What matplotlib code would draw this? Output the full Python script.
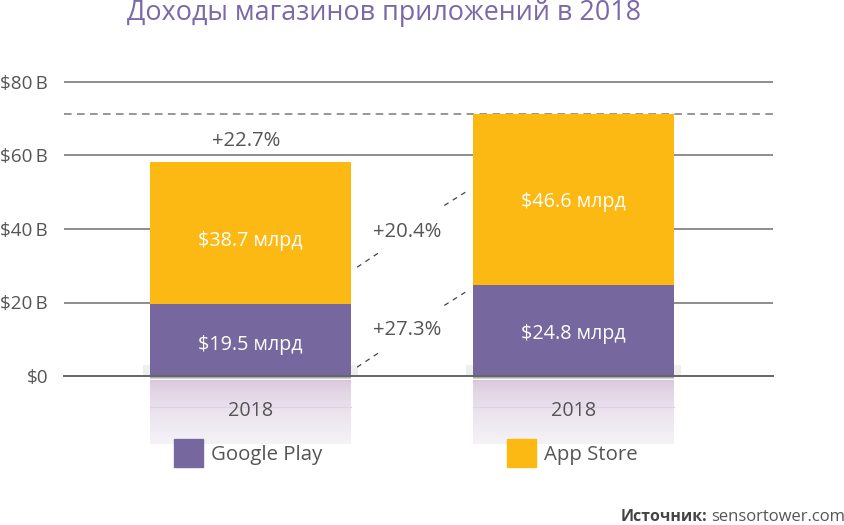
#!/usr/bin/env python

# Numbers.
import numpy as np

# Plotting.
import matplotlib
matplotlib.use('Agg')
import matplotlib.pyplot as plt
from matplotlib.patches import Patch

plt.rcParams['font.family'] = ['Open Sans', 'DejaVu Sans']

# Chart data.
years = ['2018', '2018']
google_play = [19.5, 24.8]
app_store = [38.7, 46.6]
google_labels = ['$19.5 млрд', '$24.8 млрд']
app_labels = ['$38.7 млрд', '$46.6 млрд']
growth_labels = ['+20.4%', '+27.3%']
total_label = '+22.7%'
y_ticks = [0, 20, 40, 60, 80]
y_labels = ['$0', '$20\u2009B', '$40\u2009B', '$60\u2009B', '$80\u2009B']

# Colours.
purple = '#77679f'
yellow = '#fcb813'
text_grey = '#555555'
grid_grey = '#7a7a7a'

W, H = 845, 525

# Create figure, axes span the gridlines.
fig = plt.figure(figsize=(W / 100, H / 100), dpi=100)
ax = fig.add_axes([64 / W, 1 - 376 / H, (773 - 64) / W, (376 - 82) / H])

x = np.arange(len(years))
bar_width = 0.622
x_min, x_max = -0.5774, 1.6176

ax.set_yticks(y_ticks)
ax.set_yticklabels(y_labels, fontsize=13.6, color=text_grey)
ax.tick_params(axis='y', length=0, pad=11.5)

# Gridlines, the $20 and $40 ones leave the gap between the bars empty.
ax.hlines([60, 80], x_min, x_max, color=grid_grey, lw=1.2, zorder=1, clip_on=False)
ax.hlines([20, 40], x_min, x[0], color=grid_grey, lw=1.2, zorder=1, clip_on=False)
ax.hlines([20, 40], x[1], x_max, color=grid_grey, lw=1.2, zorder=1, clip_on=False)

# Stacked bars.
ax.bar(x, google_play, bar_width, color=purple, zorder=3)
ax.bar(x, app_store, bar_width, bottom=google_play, color=yellow, zorder=3)

# Labels in the bars, nudged to sit where the reference has them.
google_nudge = [-1.4, -1.1]
app_nudge = [-2.2, -0.8]
for i in x:
    ax.text(i, google_play[i] / 2 + google_nudge[i], google_labels[i], color='white', fontsize=14.2,
            ha='center', va='center', zorder=5)
    ax.text(i, google_play[i] + app_store[i] / 2 + app_nudge[i], app_labels[i], color='white', fontsize=14.2,
            ha='center', va='center', zorder=5)

# Dashed line at the top of the taller bar.
top = google_play[1] + app_store[1]
ax.axhline(top, color=grid_grey, lw=1.1, ls=(0, (5, 3.5)), zorder=1)

# Total growth over the left bar.
ax.text(x[0] - 0.012, google_play[0] + app_store[0] + 5.7, total_label, color=text_grey, fontsize=14.6,
        ha='center', va='center')

# Growth labels with the dashed connectors.
ax.text(0.485, 39.2, growth_labels[0], color=text_grey, fontsize=14.6, ha='center', va='center')
ax.text(0.485, 12.4, growth_labels[1], color=text_grey, fontsize=14.6, ha='center', va='center')
for y0 in (2.4, 29.6):
    ax.plot([0.33, 0.40], [y0, y0 + 4.1], color='#444444', lw=0.9, ls=(0, (4, 4)))
    ax.plot([0.60, 0.665], [y0 + 16.8, y0 + 20.4], color='#444444', lw=0.9, ls=(0, (4, 4)))

# Soft reflection under the bars and a bit of shadow beside them.
fade = np.linspace(0, 1, 64) ** 0.6
reflection = np.ones((64, 1, 4))
reflection[:, 0, 0] = 0.85 + 0.11 * fade
reflection[:, 0, 1] = 0.77 + 0.18 * fade
reflection[:, 0, 2] = 0.86 + 0.11 * fade
shadow = np.zeros((6, 1, 4))
shadow[:, 0, :3] = 0.3
shadow[:, 0, 3] = np.linspace(0.95, 0, 6)
for i in x:
    ax.imshow(reflection, extent=[i - bar_width / 2, i + bar_width / 2, -18.5, -1.1], aspect='auto',
              origin='upper', zorder=0.2, clip_on=False)
    ax.imshow(shadow, extent=[i - bar_width / 2, i + bar_width / 2, -1.2, 0], aspect='auto',
              origin='upper', zorder=2, clip_on=False)
    ax.bar(i, 3, bar_width + 0.044, color='#efefef', zorder=0.3)
    ax.plot([i - bar_width / 2, i + bar_width / 2], [-8.3, -8.3], color='#dfd3e3', lw=0.8, zorder=0.3,
            clip_on=False)

# Category labels.
ax.set_xticks(x)
ax.set_xticklabels(years, fontsize=14.2, color=text_grey)
ax.tick_params(axis='x', length=0, pad=18)

ax.set_xlim(x_min, x_max)
ax.set_ylim(0, 80)

for side in ['top', 'right', 'left', 'bottom']:
    ax.spines[side].set_visible(False)
ax.axhline(0, color='#666666', lw=1.4, zorder=4, clip_on=False)

# Legend.
ax.legend(handles=[Patch(color=purple, label='Google Play'), Patch(color=yellow, label='App Store')],
          ncol=2, frameon=False, fontsize=14.7, labelcolor=text_grey, handlelength=1.41, handleheight=1.77,
          handletextpad=0.4, columnspacing=9.05, borderpad=0, borderaxespad=0,
          loc='upper left', bbox_to_anchor=((174 - 64) / (773 - 64), -(439 - 376) / (376 - 82)))

# Title and source.
fig.text(384 / W, 1 - 13 / H, 'Доходы магазинов приложений в 2018', color='#7b68a9', fontsize=19.35,
         ha='center', va='center')
fig.text(845 / W, 1 - 517 / H, 'sensortower.com', color=text_grey, fontsize=12, ha='right', va='center')
fig.text(707 / W, 1 - 517 / H, 'Источник:', color='#444444', fontsize=11.4, fontweight='bold', ha='right',
         va='center')

# Save figure.
fig.savefig('out.png', dpi=100)
